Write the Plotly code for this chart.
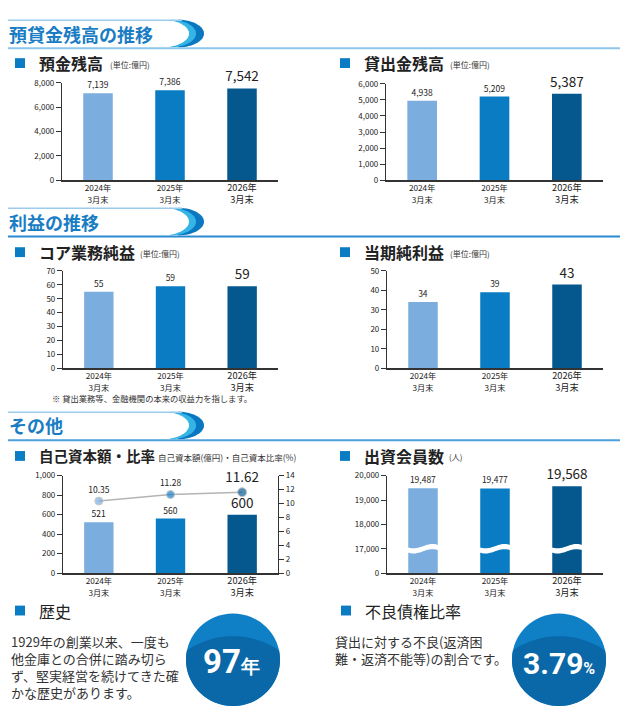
import numpy as np
import plotly.graph_objects as go

W, H = 628, 714
FONT = "Noto Sans CJK JP, Noto Sans, sans-serif"
NUM_FONT = "Liberation Sans Narrow, Roboto, Arial, sans-serif"

# ---------------- data ----------------
periods = ["2024年", "2025年", "2026年"]
period_suffix = "3月末"

deposits = [7139, 7386, 7542]
deposit_ticks = [0, 2000, 4000, 6000, 8000]

loans = [4938, 5209, 5387]
loan_ticks = [0, 1000, 2000, 3000, 4000, 5000, 6000]

core_profit = [55, 59, 59]
core_ticks = [0, 10, 20, 30, 40, 50, 60, 70]

net_income = [34, 39, 43]
net_ticks = [0, 10, 20, 30, 40, 50]

equity = [521, 560, 600]
equity_ticks = [0, 200, 400, 600, 800, 1000]
equity_ratio = [10.35, 11.28, 11.62]
ratio_ticks = [0, 2, 4, 6, 8, 10, 12, 14]

members = [19487, 19477, 19568]
member_ticks = [0, 17000, 18000, 19000, 20000]

history_years = 97
npl_ratio = 3.79

section_titles = ["預貸金残高の推移", "利益の推移", "その他"]
chart_titles = ["預金残高", "貸出金残高", "コア業務純益", "当期純利益", "自己資本額・比率", "出資会員数"]
chart_units = ["(単位:億円)", "(単位:億円)", "(単位:億円)", "(単位:億円)",
               "自己資本額(億円)・自己資本比率(%)", "(人)"]
core_note = "※ 貸出業務等、金融機関の本来の収益力を指します。"
history_title = "歴史"
history_text = ["1929年の創業以来、一度も", "他金庫との合併に踏み切ら", "ず、堅実経営を続けてきた確", "かな歴史があります。"]
npl_title = "不良債権比率"
npl_text = ["貸出に対する不良(返済困", "難・返済不能等)の割合です。"]

# ---------------- style ----------------
BAR_COLORS = ["#7BAEDF", "#0A7CC3", "#04588E"]
MARKER_COLORS = ["#7BAEDF", "#1A82C8", "#0B5F98"]
BLUE = "#0A7CC3"
HEAD_BLUE = "#1A7DC4"


def fx(x):
    return x / W


def fy(y):
    return 1 - y / H


def pts_path(pts):
    return "M " + " L ".join(f"{fx(x):.5f},{fy(y):.5f}" for x, y in pts) + " Z"


# member axis break: 0 is drawn one step below the first non-zero tick
m_step = member_ticks[2] - member_ticks[1]
m_offset = member_ticks[1] - m_step


def m_disp(v):
    return 0 if v == 0 else v - m_offset


panels = [
    dict(vals=deposits, ticks=deposit_ticks, x0=62, x1=278, yt=78, yb=177),
    dict(vals=loans, ticks=loan_ticks, x0=386, x1=603, yt=79, yb=177),
    dict(vals=core_profit, ticks=core_ticks, x0=63, x1=278, yt=269, yb=368),
    dict(vals=net_income, ticks=net_ticks, x0=387, x1=603, yt=269, yb=368),
    dict(vals=equity, ticks=equity_ticks, x0=63, x1=278, yt=477, yb=576),
    dict(vals=members, ticks=member_ticks, x0=387, x1=603, yt=477, yb=576, brk=True),
]

ticktext_x = [f"<span style='font-size:8.2px'>{p}</span><br><span style='font-size:8.2px'>{period_suffix}</span>"
              for p in periods[:-1]] + [f"{periods[-1]}<br>{period_suffix}"]

fig = go.Figure()
layout = dict(width=W, height=H, margin=dict(l=0, r=0, t=0, b=0, pad=0),
              paper_bgcolor="white", plot_bgcolor="white", showlegend=False,
              font=dict(family=FONT, color="#222"))
shapes = []
annotations = []

for i, p in enumerate(panels, start=1):
    sfx = "" if i == 1 else str(i)
    if p.get("brk"):
        ydisp = [m_disp(v) for v in p["vals"]]
        tickvals = [m_disp(t) for t in p["ticks"]]
    else:
        ydisp = list(p["vals"])
        tickvals = list(p["ticks"])
    ticktext = [f"{t:,}" for t in p["ticks"]]
    fig.add_trace(go.Bar(
        x=periods, y=ydisp, xaxis="x" + sfx, yaxis="y" + sfx,
        marker=dict(color=BAR_COLORS, line=dict(width=0)), width=0.41,
        text=[f"{v:,}" for v in p["vals"]], textposition="outside",
        textfont=dict(size=[8.5, 8.5, 13.5], color="#222", family=FONT),
        cliponaxis=False, constraintext="none", hoverinfo="skip"))
    layout["xaxis" + sfx] = dict(
        domain=[fx(p["x0"]), fx(p["x1"])], type="category", range=[-0.5, 2.5],
        tickvals=periods, ticktext=ticktext_x, ticks="", showline=True,
        linecolor="#333", linewidth=1.5, showgrid=False, zeroline=False,
        tickfont=dict(size=9.2, color="#222"), ticklabelstandoff=-2,
        anchor="y" + sfx, fixedrange=True)
    layout["yaxis" + sfx] = dict(
        domain=[fy(p["yb"]), fy(p["yt"])], range=[0, tickvals[-1]],
        tickvals=tickvals, ticktext=ticktext, ticks="outside", ticklen=5,
        tickwidth=1, tickcolor="#333", showline=True, linecolor="#333",
        linewidth=1.2, showgrid=False, zeroline=False,
        tickfont=dict(size=8, color="#222"), anchor="x" + sfx, fixedrange=True)
    if p.get("brk"):
        yc = p["yb"] - (m_disp(member_ticks[1]) / tickvals[-1]) * (p["yb"] - p["yt"])
        bw = (p["x1"] - p["x0"]) / 3
        t = np.linspace(0, 1, 25)
        for k in range(3):
            cx = p["x0"] + (k + 0.5) * bw
            xs = cx - 19 + 38 * t
            wave = 2.2 * np.sin(2 * np.pi * t)
            top = list(zip(xs, yc - 2.6 + wave))
            bot = list(zip(xs[::-1], (yc + 2.6 + wave)[::-1]))
            shapes.append(dict(type="path", xref="paper", yref="paper",
                               path=pts_path(top + bot), fillcolor="white",
                               line=dict(width=0), layer="above"))

# ratio line on secondary axis of chart 5
fig.add_trace(go.Scatter(
    x=periods, y=equity_ratio, xaxis="x5", yaxis="y7",
    mode="lines+markers+text", line=dict(color="#B4B4B4", width=1.5),
    marker=dict(color=MARKER_COLORS, size=[8, 8, 9]),
    text=[f"{v:.2f}" for v in equity_ratio], textposition="top center",
    textfont=dict(size=[8.5, 8.5, 13.5], color="#222"), cliponaxis=False,
    hoverinfo="skip"))
layout["yaxis7"] = dict(
    overlaying="y5", side="right", anchor="x5", range=[0, ratio_ticks[-1]],
    tickvals=ratio_ticks, ticktext=[str(t) for t in ratio_ticks],
    ticks="outside", ticklen=5, tickwidth=1, tickcolor="#333",
    showline=True, linecolor="#333", linewidth=1.2, showgrid=False,
    zeroline=False, tickfont=dict(size=8, color="#222"), fixedrange=True)

# ---------------- section headers ----------------
headers = [(14, 43, "#8EC5EA"), (205, 234, "#2A8BD2"), (412, 441, "#4D9FDB")]
for (top, bot, lc), title in zip(headers, section_titles):
    yc = (top + bot - 1) / 2
    ry = (bot - 1 - top) / 2
    th = np.linspace(-np.pi / 2, np.pi / 2, 30)
    for xl, xr, col in [(178, 204, "#0A78C0"), (170, 196, "#35B5E6"), (162, 189, "white")]:
        pts = [(xl + (xr - xl) * np.cos(a), yc + ry * np.sin(a)) for a in th]
        shapes.append(dict(type="path", xref="paper", yref="paper", path=pts_path(pts),
                           fillcolor=col, line=dict(width=0), layer="above"))
    shapes.append(dict(type="line", xref="paper", yref="paper", x0=fx(8), x1=fx(182),
                       y0=fy(top + 0.5), y1=fy(top + 0.5), line=dict(color="#9CCBEB", width=1.5)))
    shapes.append(dict(type="line", xref="paper", yref="paper", x0=fx(8), x1=fx(620),
                       y0=fy(bot), y1=fy(bot), line=dict(color=lc, width=2)))
    annotations.append(dict(text=f"<b>{title}</b>", x=fx(7), y=fy(yc), xref="paper", yref="paper",
                            xanchor="left", yanchor="middle", showarrow=False,
                            font=dict(size=18, color=HEAD_BLUE, family=FONT)))

# ---------------- chart titles ----------------
title_pos = [(15, 58, 108), (340, 58, 448), (15, 250, 138), (340, 250, 448), (15, 457, 156), (340, 457, 447)]
title_sizes = [16, 16, 16, 16, 14.5, 16]
for (sx, sy, ux), title, unit, ts in zip(title_pos, chart_titles, chart_units, title_sizes):
    shapes.append(dict(type="rect", xref="paper", yref="paper", x0=fx(sx), x1=fx(sx + 10),
                       y0=fy(sy + 5), y1=fy(sy - 5), fillcolor=BLUE, line=dict(width=0)))
    annotations.append(dict(text=f"<b>{title}</b>", x=fx(sx + 22), y=fy(sy), xref="paper", yref="paper",
                            xanchor="left", yanchor="middle", showarrow=False,
                            font=dict(size=ts, color="#222", family=FONT)))
    annotations.append(dict(text=unit, x=fx(ux), y=fy(sy + 1), xref="paper", yref="paper",
                            xanchor="left", yanchor="middle", showarrow=False,
                            font=dict(size=8.5 if len(unit) > 8 else 8, color="#333", family=FONT)))

annotations.append(dict(text=core_note, x=fx(50), y=fy(398), xref="paper", yref="paper",
                        xanchor="left", yanchor="middle", showarrow=False,
                        font=dict(size=8.3, color="#333", family=FONT)))

# ---------------- bottom panels ----------------
for (sx, sy), title in zip([(15, 614), (341, 614)], [history_title, npl_title]):
    shapes.append(dict(type="rect", xref="paper", yref="paper", x0=fx(sx), x1=fx(sx + 10),
                       y0=fy(sy + 5), y1=fy(sy - 5), fillcolor=BLUE, line=dict(width=0)))
    annotations.append(dict(text=title, x=fx(sx + 22), y=fy(sy), xref="paper", yref="paper",
                            xanchor="left", yanchor="middle", showarrow=False,
                            font=dict(size=16, color="#222", family=FONT)))

annotations.append(dict(text="<br>".join(history_text), x=fx(9), y=fy(671), xref="paper", yref="paper",
                        xanchor="left", yanchor="middle", align="left", showarrow=False,
                        font=dict(size=13, color="#333", family=FONT)))
annotations.append(dict(text="<br>".join(npl_text), x=fx(333), y=fy(654), xref="paper", yref="paper",
                        xanchor="left", yanchor="middle", align="left", showarrow=False,
                        font=dict(size=13, color="#333", family=FONT)))


def badge(cx, cy, r):
    shapes.append(dict(type="circle", xref="paper", yref="paper", x0=fx(cx - r), x1=fx(cx + r),
                       y0=fy(cy + r), y1=fy(cy - r), fillcolor="#0F7FC6", line=dict(width=0)))
    D, R = 56, 80
    u = (r * r - R * R + D * D) / (2 * D)
    dx = np.sqrt(r * r - u * u)
    phi_r = np.arctan2(u, dx)
    phi_l = np.pi - phi_r
    a1 = np.linspace(phi_r, phi_l, 50)
    arc1 = [(cx + r * np.cos(a), cy + r * np.sin(a)) for a in a1]
    psi_l = np.arctan2(u - D, -dx)
    psi_r = np.arctan2(u - D, dx)
    a2 = np.linspace(psi_l, psi_r, 40)
    arc2 = [(cx + R * np.cos(a), cy + D + R * np.sin(a)) for a in a2]
    shapes.append(dict(type="path", xref="paper", yref="paper", path=pts_path(arc1 + arc2),
                       fillcolor="#0A68A8", line=dict(width=0)))


badge(233, 664, 47)
badge(559, 664, 47)
annotations.append(dict(text=f"<b>{history_years}</b><b><span style='font-size:19px'>年</span></b>",
                        x=fx(232), y=fy(666), xref="paper", yref="paper", xanchor="center",
                        yanchor="middle", showarrow=False,
                        font=dict(size=33, color="white", family=NUM_FONT)))
annotations.append(dict(text=f"<b>{npl_ratio:.2f}</b><b><span style='font-size:16px'>%</span></b>",
                        x=fx(559), y=fy(668), xref="paper", yref="paper", xanchor="center",
                        yanchor="middle", showarrow=False,
                        font=dict(size=30, color="white", family=NUM_FONT)))

layout["shapes"] = shapes
layout["annotations"] = annotations
fig.update_layout(**layout)
fig.write_html("out.html", config={"displayModeBar": False},
               post_script="document.body.style.margin='0';document.body.style.overflow='hidden';")
